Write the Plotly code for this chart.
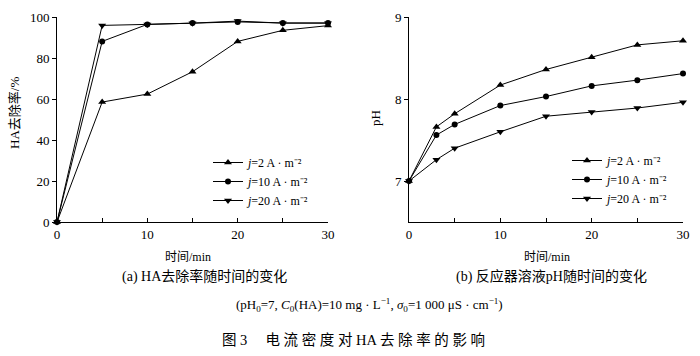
import plotly.graph_objects as go

# ---- data ----
time_a = [0, 5, 10, 15, 20, 25, 30]
removal_j2 = [0, 58.5, 62.4, 73.3, 88.1, 93.5, 95.8]
removal_j10 = [0, 88.1, 96.4, 97.1, 97.6, 97.1, 97.1]
removal_j20 = [0, 95.9, 96.4, 97.0, 98.0, 97.0, 97.0]

time_b = [0, 3, 5, 10, 15, 20, 25, 30]
ph_j2 = [7.0, 7.66, 7.82, 8.17, 8.36, 8.51, 8.66, 8.71]
ph_j10 = [7.0, 7.56, 7.69, 7.92, 8.03, 8.16, 8.23, 8.31]
ph_j20 = [7.0, 7.26, 7.40, 7.60, 7.79, 7.84, 7.89, 7.96]

series_names = ["<i>j</i>=2 A · m⁻²",
                "<i>j</i>=10 A · m⁻²",
                "<i>j</i>=20 A · m⁻²"]
symbols = ["triangle-up", "circle", "triangle-down"]

FONT = "Liberation Serif, Times New Roman, Noto Sans CJK SC, serif"
W, H = 700, 356

fig = go.Figure()

for ys, name, sym in zip([removal_j2, removal_j10, removal_j20], series_names, symbols):
    fig.add_trace(go.Scatter(
        x=time_a, y=ys, name=name, mode="lines+markers",
        line=dict(color="black", width=1),
        marker=dict(symbol=sym, size=7 if sym != "circle" else 6, color="black"),
        xaxis="x", yaxis="y", legend="legend", cliponaxis=False))

for ys, name, sym in zip([ph_j2, ph_j10, ph_j20], series_names, symbols):
    fig.add_trace(go.Scatter(
        x=time_b, y=ys, name=name, mode="lines+markers",
        line=dict(color="black", width=1),
        marker=dict(symbol=sym, size=7 if sym != "circle" else 6, color="black"),
        xaxis="x2", yaxis="y2", legend="legend2", cliponaxis=False))

ydom = [1 - 222 / H, 1 - 17 / H]

common_x = dict(showline=True, linecolor="black", linewidth=1, mirror=False,
                showgrid=False, zeroline=False, ticks="inside", ticklen=4,
                tickcolor="black", tickwidth=1, range=[0, 30], tickvals=[0, 10, 20, 30],
                minor=dict(tickvals=[5, 15, 25], ticks="inside", ticklen=4,
                           tickcolor="black", tickwidth=1),
                automargin=False,
                tickfont=dict(family=FONT, size=13, color="black"))
common_y = dict(showline=True, linecolor="black", linewidth=1, mirror=False,
                showgrid=False, zeroline=False, ticks="outside", ticklen=4,
                tickcolor="black", tickwidth=1, automargin=False,
                tickfont=dict(family=FONT, size=13, color="black"))

legend_common = dict(font=dict(family=FONT, size=12, color="black"),
                     bgcolor="rgba(0,0,0,0)", borderwidth=0,
                     xanchor="left", yanchor="top", tracegroupgap=0,
                     itemwidth=30)

fig.update_layout(
    width=W, height=H,
    margin=dict(l=0, r=0, t=0, b=0, autoexpand=False),
    paper_bgcolor="white", plot_bgcolor="white",
    font=dict(family=FONT, color="black"),
    xaxis=dict(domain=[57 / W, 328 / W], anchor="y", **common_x),
    yaxis=dict(domain=ydom, anchor="x", range=[0, 100], tickvals=[0, 20, 40, 60, 80, 100], **common_y),
    xaxis2=dict(domain=[409 / W, 683 / W], anchor="y2", **common_x),
    yaxis2=dict(domain=ydom, anchor="x2", range=[6.5, 9], tickvals=[7, 8, 9], **common_y),
    legend=dict(x=208 / W, y=1 - 148 / H, **legend_common),
    legend2=dict(x=567 / W, y=1 - 146 / H, **legend_common),
    showlegend=True,
)

def ann(text, x, y, size, **kw):
    fig.add_annotation(text=text, x=x / W, y=1 - y / H, xref="paper", yref="paper",
                       showarrow=False, xanchor="center", yanchor="middle",
                       font=dict(family=FONT, size=size, color="black"), **kw)

ann("时间/min", 188, 257, 12)
ann("时间/min", 547, 257, 12)
ann("(a) HA去除率随时间的变化", 204, 276, 14)
ann("(b) 反应器溶液pH随时间的变化", 551, 276, 14)
ann("(pH<sub>0</sub>=7, <i>C</i><sub>0</sub>(HA)=10 mg · L<sup>−1</sup>, <i>σ</i><sub>0</sub>=1 000 μS · cm<sup>−1</sup>)",
    369, 305, 13)
ann("图 3　 电 流 密 度 对 HA 去 除 率 的 影 响", 353, 340, 14.5)
ann("HA去除率/%", 15, 113, 13, textangle=-90)
ann("pH", 375, 118, 13, textangle=-90)

fig.write_html("out.html", config={"displayModeBar": False},
               post_script="document.body.style.margin='0';document.body.style.overflow='hidden';")
